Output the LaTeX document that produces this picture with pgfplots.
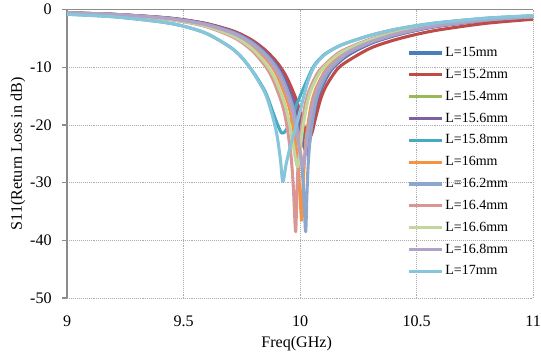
\documentclass[border=0pt]{standalone}
\usepackage{fontspec}
\setmainfont{Liberation Serif}
\usepackage{pgfplots}
\pgfplotsset{compat=1.18}
\definecolor{c1}{HTML}{4A7EBB}
\definecolor{c2}{HTML}{BE4B48}
\definecolor{c3}{HTML}{98B954}
\definecolor{c4}{HTML}{7D60A0}
\definecolor{c5}{HTML}{46AAC5}
\definecolor{c6}{HTML}{F69240}
\definecolor{c7}{HTML}{8DA7CC}
\definecolor{c8}{HTML}{D99694}
\definecolor{c9}{HTML}{C3D69B}
\definecolor{c10}{HTML}{B3A2C7}
\definecolor{c11}{HTML}{86C5DA}
\definecolor{axgray}{HTML}{8C8C8C}
\begin{document}
\begin{tikzpicture}
\begin{axis}[
  scale only axis, width=333pt, height=206pt,
  xmin=9, xmax=11, ymin=-50, ymax=0,
  xtick={9,9.5,10,10.5,11}, ytick={-50,-40,-30,-20,-10,0},
  axis x line*=bottom, axis y line*=left,
  x axis line style={draw=none},
  y axis line style={draw=axgray, line width=0.8pt, -},
  xtick pos=bottom, ytick pos=left,
  grid=major, major grid style={densely dotted, gray!65, line width=0.6pt},
  tick align=outside, major tick length=3.5pt,
  xtick style={draw=none}, ytick style={draw=axgray, line width=0.8pt},
  /pgf/number format/assume math mode=true,
  ticklabel style={font=\fontsize{11.5}{13}\selectfont},
  xticklabel style={yshift=-6pt},
  yticklabel style={xshift=-4pt},
  xlabel={Freq(GHz)}, ylabel={S11(Return Loss in dB)},
  every axis x label/.style={at={(axis description cs:0.4925,-0.158)}, anchor=center, font=\fontsize{11.5}{13}\selectfont},
  every axis y label/.style={at={(axis description cs:-0.105,0.5)}, anchor=center, rotate=90, font=\fontsize{11.5}{13}\selectfont},
  legend style={draw=none, fill=none, at={(axis cs:10.461,-26.45)}, anchor=west, inner sep=0pt,
    row sep=6.6pt, column sep=1pt, font=\fontsize{10}{12}\selectfont,
    nodes={inner sep=0pt, text height=7pt, text depth=2pt, anchor=west}},
  legend cell align=left,
  legend image code/.code={\draw[#1] (0pt,0pt) -- (23.6pt,0pt);},
  every axis plot/.append style={line width=2.2pt, smooth, tension=0.5, line join=round},
]
\draw[axgray, line width=0.8pt] (rel axis cs:0,1) -- (rel axis cs:1,1);
\addplot[c1] coordinates {(9.0,-0.55)(9.2,-0.82)(9.4,-1.34)(9.5,-1.78)(9.6,-2.47)(9.7,-3.60)(9.75,-4.44)(9.8,-5.58)(9.85,-7.18)(9.9,-9.34)(9.935,-11.59)(9.975,-15.34)(9.995,-18.0)(10.015,-21.10)(10.025,-22.44)(10.035,-23.0)(10.045,-21.74)(10.055,-19.49)(10.075,-15.79)(10.095,-13.36)(10.135,-10.42)(10.2,-8.05)(10.3,-5.92)(10.4,-4.57)(10.5,-3.58)(10.6,-2.83)(10.8,-1.84)(11.0,-1.26)};
\addlegendentry{L=15mm}
\addplot[c2] coordinates {(9.0,-0.545)(9.2,-0.81)(9.4,-1.32)(9.5,-1.75)(9.6,-2.42)(9.7,-3.52)(9.75,-4.34)(9.8,-5.45)(9.85,-6.99)(9.9,-9.1)(9.94,-11.54)(9.98,-15.22)(10.0,-17.76)(10.02,-20.64)(10.03,-21.82)(10.04,-22.3)(10.052,-21.20)(10.064,-19.16)(10.087,-15.65)(10.111,-13.28)(10.158,-10.39)(10.2,-9.02)(10.3,-6.71)(10.4,-5.31)(10.5,-4.28)(10.6,-3.48)(10.8,-2.36)(11.0,-1.66)};
\addlegendentry{L=15.2mm}
\addplot[c3] coordinates {(9.0,-0.565)(9.2,-0.84)(9.4,-1.39)(9.5,-1.86)(9.6,-2.59)(9.7,-3.81)(9.75,-4.72)(9.8,-5.97)(9.85,-7.74)(9.89,-9.75)(9.921,-11.65)(9.961,-15.49)(9.981,-18.29)(10.001,-21.72)(10.011,-23.30)(10.021,-24.0)(10.031,-22.46)(10.041,-19.90)(10.061,-15.96)(10.081,-13.45)(10.121,-10.47)(10.2,-7.66)(10.3,-5.70)(10.4,-4.41)(10.5,-3.46)(10.6,-2.74)(10.8,-1.78)(11.0,-1.22)};
\addlegendentry{L=15.4mm}
\addplot[c4] coordinates {(9.0,-0.555)(9.2,-0.825)(9.4,-1.35)(9.5,-1.80)(9.6,-2.51)(9.7,-3.67)(9.75,-4.54)(9.8,-5.72)(9.85,-7.37)(9.9,-9.65)(9.93,-11.70)(9.97,-15.62)(9.99,-18.53)(10.01,-22.28)(10.02,-24.14)(10.03,-25.0)(10.04,-23.14)(10.05,-20.26)(10.07,-16.10)(10.09,-13.53)(10.13,-10.50)(10.2,-7.91)(10.3,-5.84)(10.4,-4.51)(10.5,-3.54)(10.6,-2.80)(10.8,-1.82)(11.0,-1.25)};
\addlegendentry{L=15.6mm}
\addplot[c5] coordinates {(9.0,-0.8)(9.2,-1.23)(9.4,-2.11)(9.5,-2.87)(9.6,-4.16)(9.7,-6.5)(9.75,-8.3)(9.8,-10.9)(9.85,-14.2)(9.88,-17.4)(9.9,-19.6)(9.921,-21.4)(9.94,-20.9)(9.96,-19.2)(9.98,-17.0)(10.0,-15.0)(10.03,-12.2)(10.06,-9.7)(10.1,-7.9)(10.15,-6.65)(10.2,-5.77)(10.3,-4.47)(10.4,-3.49)(10.5,-2.78)(10.6,-2.23)(10.8,-1.48)(11.0,-1.05)};
\addlegendentry{L=15.8mm}
\addplot[c6] coordinates {(9.0,-0.58)(9.2,-0.87)(9.4,-1.44)(9.5,-1.94)(9.6,-2.72)(9.7,-4.03)(9.75,-5.03)(9.8,-6.41)(9.85,-8.36)(9.88,-9.9)(9.907,-11.88)(9.947,-16.10)(9.967,-19.54)(9.987,-25.25)(9.997,-30.38)(10.002,-34.0)(10.007,-36.5)(10.012,-31.77)(10.017,-27.15)(10.027,-21.87)(10.047,-16.65)(10.067,-13.81)(10.107,-10.64)(10.15,-8.75)(10.2,-7.31)(10.3,-5.50)(10.4,-4.26)(10.5,-3.35)(10.6,-2.66)(10.8,-1.73)(11.0,-1.19)};
\addlegendentry{L=16mm}
\addplot[c7] coordinates {(9.0,-0.562)(9.2,-0.835)(9.4,-1.38)(9.5,-1.84)(9.6,-2.56)(9.7,-3.76)(9.75,-4.66)(9.8,-5.89)(9.85,-7.62)(9.89,-9.5)(9.924,-11.88)(9.964,-16.11)(9.984,-19.57)(10.004,-25.38)(10.014,-30.79)(10.019,-35.03)(10.024,-38.5)(10.029,-32.34)(10.034,-27.34)(10.044,-21.92)(10.064,-16.66)(10.084,-13.82)(10.124,-10.64)(10.2,-7.75)(10.3,-5.75)(10.4,-4.44)(10.5,-3.49)(10.6,-2.76)(10.8,-1.79)(11.0,-1.23)};
\addlegendentry{L=16.2mm}
\addplot[c8] coordinates {(9.0,-0.61)(9.2,-0.92)(9.4,-1.55)(9.5,-2.10)(9.6,-2.99)(9.7,-4.52)(9.75,-5.69)(9.8,-7.33)(9.85,-9.74)(9.881,-11.88)(9.921,-16.11)(9.941,-19.57)(9.961,-25.38)(9.971,-30.79)(9.976,-35.03)(9.981,-38.5)(9.986,-32.34)(9.991,-27.34)(10.001,-21.92)(10.021,-16.66)(10.041,-13.82)(10.081,-10.64)(10.15,-7.94)(10.2,-6.75)(10.3,-5.13)(10.4,-4.00)(10.5,-3.15)(10.6,-2.51)(10.8,-1.65)(11.0,-1.15)};
\addlegendentry{L=16.4mm}
\addplot[c9] coordinates {(9.0,-0.60)(9.2,-0.90)(9.4,-1.51)(9.5,-2.04)(9.6,-2.90)(9.7,-4.34)(9.75,-5.45)(9.8,-6.99)(9.85,-9.23)(9.89,-11.77)(9.93,-15.82)(9.95,-18.93)(9.97,-23.32)(9.98,-25.86)(9.99,-27.2)(10.0,-24.43)(10.01,-20.88)(10.03,-16.33)(10.05,-13.65)(10.09,-10.56)(10.15,-8.19)(10.2,-6.93)(10.3,-5.25)(10.4,-4.09)(10.5,-3.22)(10.6,-2.56)(10.8,-1.68)(11.0,-1.17)};
\addlegendentry{L=16.6mm}
\addplot[c10] coordinates {(9.0,-0.57)(9.2,-0.85)(9.4,-1.41)(9.5,-1.90)(9.6,-2.65)(9.7,-3.92)(9.75,-4.87)(9.8,-6.19)(9.85,-8.03)(9.88,-9.5)(9.914,-11.77)(9.954,-15.82)(9.974,-18.93)(9.994,-23.32)(10.004,-25.86)(10.014,-27.2)(10.024,-24.43)(10.034,-20.88)(10.054,-16.33)(10.074,-13.65)(10.114,-10.56)(10.2,-7.49)(10.3,-5.61)(10.4,-4.33)(10.5,-3.40)(10.6,-2.70)(10.8,-1.76)(11.0,-1.21)};
\addlegendentry{L=16.8mm}
\addplot[c11] coordinates {(9.0,-0.8)(9.2,-1.23)(9.4,-2.11)(9.5,-2.87)(9.6,-4.16)(9.7,-6.5)(9.75,-8.3)(9.8,-11.0)(9.85,-14.5)(9.88,-18.2)(9.9,-21.6)(9.915,-25.8)(9.926,-29.8)(9.94,-26.8)(9.96,-23.4)(9.98,-20.6)(10.0,-17.6)(10.03,-12.9)(10.06,-9.9)(10.1,-8.0)(10.15,-6.65)(10.2,-5.77)(10.3,-4.47)(10.4,-3.49)(10.5,-2.78)(10.6,-2.23)(10.8,-1.48)(11.0,-1.05)};
\addlegendentry{L=17mm}
\end{axis}
\pgfresetboundingbox
\path ([shift={(-47.9pt,-39.3pt)}]current axis.south west) rectangle ([shift={(5.6pt,6.9pt)}]current axis.north east);
\end{tikzpicture}
\end{document}
